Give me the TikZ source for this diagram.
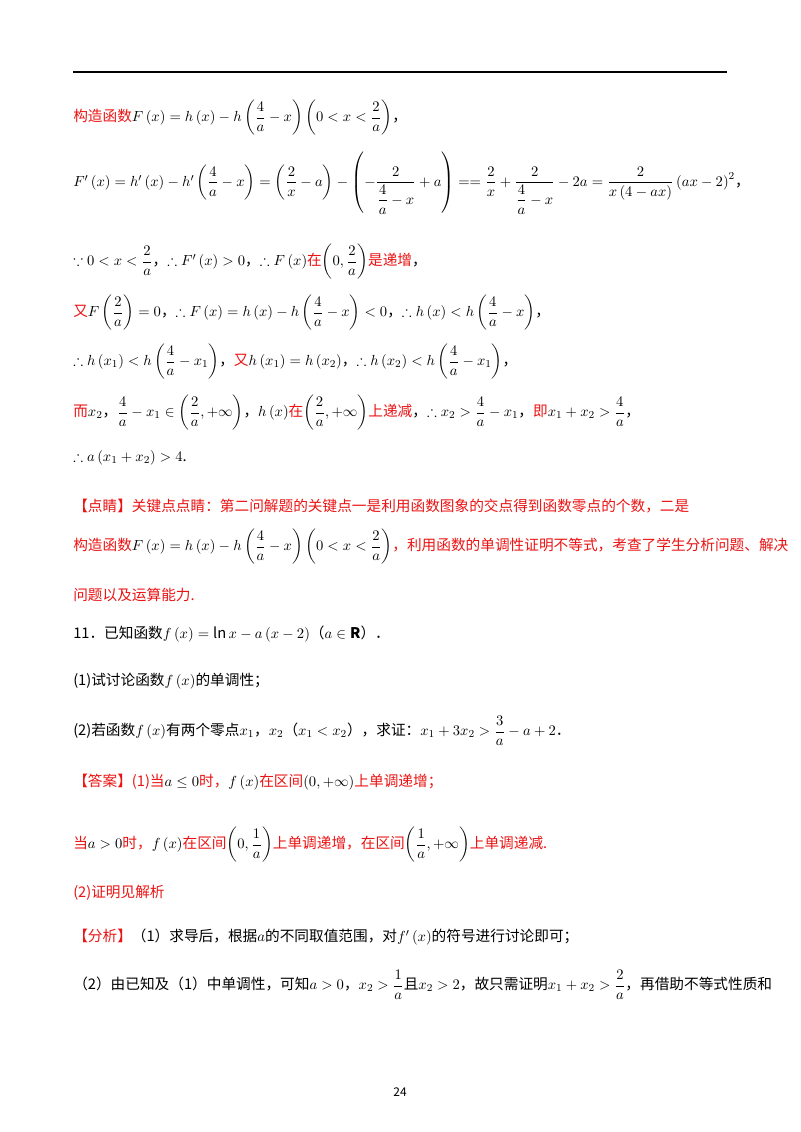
\documentclass[tikz,border=0pt]{standalone}
\usepackage{amsmath,amssymb}
\usepackage{fontspec}
\setmainfont{Noto Sans CJK SC}
\definecolor{rd}{RGB}{235,20,20}
\newcommand{\rr}[1]{\textcolor{rd}{#1}}
\begin{document}
\begin{tikzpicture}[x=0.75pt,y=-0.75pt,
  ln/.style={anchor=west,inner sep=0pt,font=\fontsize{11pt}{13pt}\selectfont}]
\useasboundingbox (0,0) rectangle (800,1132);
\fill[white] (0,0) rectangle (800,1132);
\coordinate (la) at (73,72); \coordinate (lb) at (727,72);
\draw[line width=1.5pt] (la) -- (lb);
\node[ln] (l1) at (73,118) {\rr{构造函数}$F\left(x\right)=h\left(x\right)-h\left(\dfrac{4}{a}-x\right)\left(0<x<\dfrac{2}{a}\right)$，};
\node[ln] (l2) at (73,183) {$F'\left(x\right)=h'\left(x\right)-h'\left(\dfrac{4}{a}-x\right)=\left(\dfrac{2}{x}-a\right)-\left(-\dfrac{2}{\dfrac{4}{a}-x}+a\right)==\dfrac{2}{x}+\dfrac{2}{\dfrac{4}{a}-x}-2a=\dfrac{2}{x\left(4-ax\right)}\left(ax-2\right)^2$，};
\node[ln] (l3) at (73,262) {$\because 0<x<\dfrac{2}{a}$，$\therefore F'\left(x\right)>0$，$\therefore F\left(x\right)$\rr{在}$\left(0,\dfrac{2}{a}\right)$\rr{是递增}，};
\node[ln] (l4) at (73,313) {\rr{又}$F\left(\dfrac{2}{a}\right)=0$，$\therefore F\left(x\right)=h\left(x\right)-h\left(\dfrac{4}{a}-x\right)<0$，$\therefore h\left(x\right)<h\left(\dfrac{4}{a}-x\right)$，};
\node[ln] (l5) at (73,362) {$\therefore h\left(x_1\right)<h\left(\dfrac{4}{a}-x_1\right)$，\rr{又}$h\left(x_1\right)=h\left(x_2\right)$，$\therefore h\left(x_2\right)<h\left(\dfrac{4}{a}-x_1\right)$，};
\node[ln] (l6) at (73,413) {\rr{而}$x_2$，$\dfrac{4}{a}-x_1\in\left(\dfrac{2}{a},+\infty\right)$，$h\left(x\right)$\rr{在}$\left(\dfrac{2}{a},+\infty\right)$\rr{上递减}，$\therefore x_2>\dfrac{4}{a}-x_1$，\rr{即}$x_1+x_2>\dfrac{4}{a}$，};
\node[ln] (l7) at (73,458) {$\therefore a\left(x_1+x_2\right)>4$.};
\node[ln] (l8) at (73,506) {\rr{【点睛】关键点点睛：第二问解题的关键点一是利用函数图象的交点得到函数零点的个数，二是}};
\node[ln] (l9) at (73,547) {\rr{构造函数}$F\left(x\right)=h\left(x\right)-h\left(\dfrac{4}{a}-x\right)\left(0<x<\dfrac{2}{a}\right)$\rr{，利用函数的单调性证明不等式，考查了学生分析问题、解决}};
\node[ln] (l10) at (73,595) {\rr{问题以及运算能力.}};
\node[ln] (l11) at (73,634) {11．已知函数$f\left(x\right)=\ln x-a\left(x-2\right)$（$a\in\mathbf{R}$）．};
\node[ln] (l12) at (73,681) {(1)试讨论函数$f\left(x\right)$的单调性；};
\node[ln] (l13) at (73,731) {(2)若函数$f\left(x\right)$有两个零点$x_1$，$x_2$（$x_1<x_2$），求证：$x_1+3x_2>\dfrac{3}{a}-a+2$．};
\node[ln] (l14) at (73,782) {\rr{【答案】(1)当}$a\le 0$\rr{时，}$f\left(x\right)$\rr{在区间}$\left(0,+\infty\right)$\rr{上单调递增；}};
\node[ln] (l15) at (73,845) {\rr{当}$a>0$\rr{时，}$f\left(x\right)$\rr{在区间}$\left(0,\dfrac{1}{a}\right)$\rr{上单调递增，在区间}$\left(\dfrac{1}{a},+\infty\right)$\rr{上单调递减.}};
\node[ln] (l16) at (73,893) {\rr{(2)证明见解析}};
\node[ln] (l17) at (73,937) {\rr{【分析】}（1）求导后，根据$a$的不同取值范围，对$f'\left(x\right)$的符号进行讨论即可；};
\node[ln] (l18) at (73,985) {（2）由已知及（1）中单调性，可知$a>0$，$x_2>\dfrac{1}{a}$且$x_2>2$，故只需证明$x_1+x_2>\dfrac{2}{a}$，再借助不等式性质和};
\node[ln,anchor=center,font=\fontsize{9pt}{11pt}\selectfont] (pg) at (400,1092) {24};
\end{tikzpicture}
\end{document}
